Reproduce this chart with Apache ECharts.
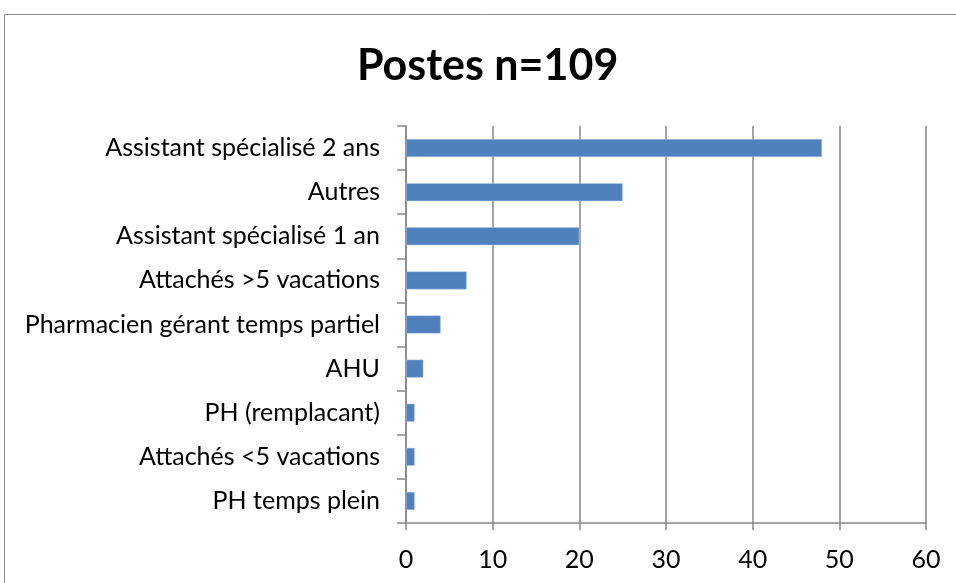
<!DOCTYPE html>
<html>
<head>
<meta charset="utf-8">
<script src="https://cdn.jsdelivr.net/npm/echarts@6/dist/echarts.min.js"></script>
<style>
html,body{margin:0;padding:0;background:#fff;}
#c{width:956px;height:583px;}
</style>
</head>
<body>
<div id="c"></div>
<script>
const categories = [
  "Assistant spécialisé 2 ans",
  "Autres",
  "Assistant spécialisé 1 an",
  "Attachés >5 vacations",
  "Pharmacien gérant temps partiel",
  "AHU",
  "PH (remplacant)",
  "Attachés <5 vacations",
  "PH temps plein"
];
const values = [48, 25, 20, 7, 4, 2, 1, 1, 1];
const titleText = "Postes n=109";

const chart = echarts.init(document.getElementById('c'), null, {renderer: 'canvas'});
const FONT = 'Lato';
chart.setOption({
  animation: false,
  backgroundColor: '#ffffff',
  title: {
    text: titleText,
    left: 352,
    top: 40,
    textStyle: {fontFamily: FONT, fontWeight: 'bold', fontSize: 43, color: '#000'}
  },
  graphic: [{
    type: 'rect',
    shape: {x: 4.5, y: 14.5, width: 1000, height: 700},
    style: {fill: 'none', stroke: '#8a8a8a', lineWidth: 1},
    silent: true,
    z: -1
  }],
  grid: {left: 406, right: 30, top: 126, bottom: 60, containLabel: false},
  xAxis: {
    type: 'value',
    min: 0, max: 60, interval: 10,
    axisLine: {show: true, lineStyle: {color: '#868686', width: 1.5}},
    axisTick: {show: true, length: 7, lineStyle: {color: '#868686', width: 1.5}},
    axisLabel: {fontFamily: FONT, fontSize: 25, color: '#000', margin: 24},
    splitLine: {show: true, lineStyle: {color: '#868686', width: 1.5}}
  },
  yAxis: {
    type: 'category',
    data: categories,
    inverse: true,
    axisLine: {show: true, lineStyle: {color: '#868686', width: 1.5}},
    axisTick: {show: true, length: 9, alignWithLabel: false, lineStyle: {color: '#868686', width: 1.5}},
    axisLabel: {fontFamily: FONT, fontSize: 25, color: '#000', margin: 26},
    splitLine: {show: false}
  },
  series: [{
    type: 'bar',
    data: values,
    barWidth: 18,
    itemStyle: {color: '#4F81BD', borderColor: '#B9CDE5', borderWidth: 0.5}
  }]
});
</script>
</body>
</html>
